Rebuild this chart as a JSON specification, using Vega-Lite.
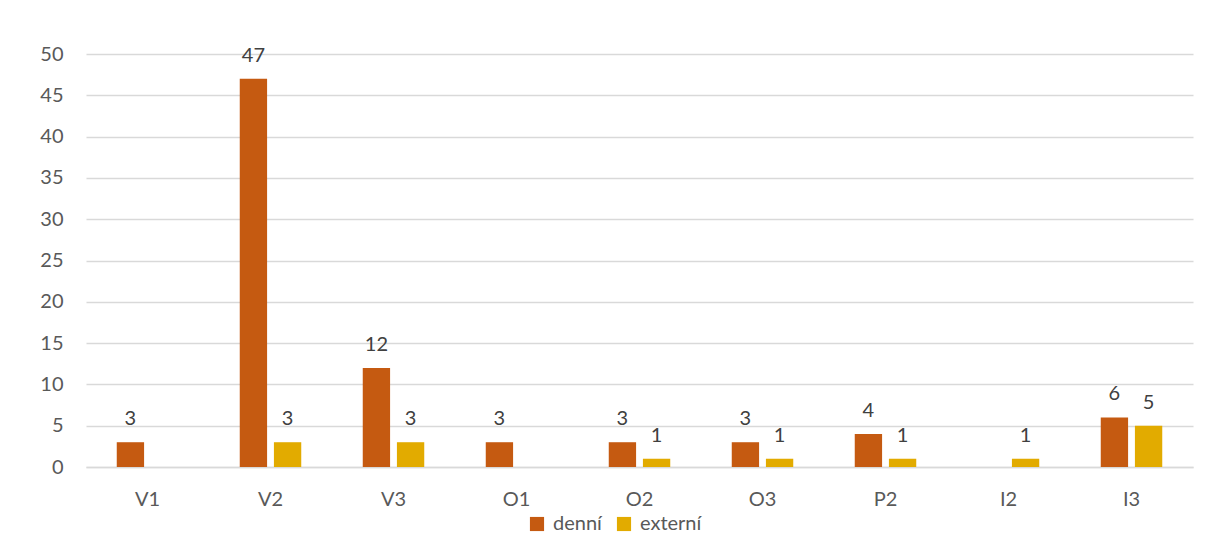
{
  "$schema": "https://vega.github.io/schema/vega-lite/v6.json",
  "width": 1107,
  "height": 413,
  "autosize": {"type": "none"},
  "padding": {"left": 86, "top": 54, "right": 19, "bottom": 89},
  "background": "white",
  "config": {
    "view": {"stroke": null},
    "font": "Lato",
    "axis": {"labelFont": "Lato", "labelFontSize": 20, "labelColor": "#595959"},
    "legend": {"labelFont": "Lato", "labelFontSize": 20, "labelColor": "#595959"}
  },
  "data": {
    "values": [
      {"kategorie": "V1", "typ": "denní", "pocet": 3},
      {"kategorie": "V2", "typ": "denní", "pocet": 47},
      {"kategorie": "V2", "typ": "externí", "pocet": 3},
      {"kategorie": "V3", "typ": "denní", "pocet": 12},
      {"kategorie": "V3", "typ": "externí", "pocet": 3},
      {"kategorie": "O1", "typ": "denní", "pocet": 3},
      {"kategorie": "O2", "typ": "denní", "pocet": 3},
      {"kategorie": "O2", "typ": "externí", "pocet": 1},
      {"kategorie": "O3", "typ": "denní", "pocet": 3},
      {"kategorie": "O3", "typ": "externí", "pocet": 1},
      {"kategorie": "P2", "typ": "denní", "pocet": 4},
      {"kategorie": "P2", "typ": "externí", "pocet": 1},
      {"kategorie": "I2", "typ": "externí", "pocet": 1},
      {"kategorie": "I3", "typ": "denní", "pocet": 6},
      {"kategorie": "I3", "typ": "externí", "pocet": 5}
    ]
  },
  "encoding": {
    "x": {
      "field": "kategorie",
      "type": "nominal",
      "sort": ["V1", "V2", "V3", "O1", "O2", "O3", "P2", "I2", "I3"],
      "scale": {"paddingInner": 0.5, "paddingOuter": 0.25},
      "axis": {
        "title": null,
        "labelAngle": 0,
        "ticks": false,
        "domainColor": "#d9d9d9",
        "domainWidth": 1.5,
        "labelPadding": 22
      }
    },
    "xOffset": {
      "field": "typ",
      "type": "nominal",
      "sort": ["denní", "externí"],
      "scale": {"paddingInner": 0.2, "paddingOuter": 0}
    },
    "y": {
      "field": "pocet",
      "type": "quantitative",
      "scale": {"domain": [0, 50], "nice": false},
      "axis": {
        "title": null,
        "values": [0, 5, 10, 15, 20, 25, 30, 35, 40, 45, 50],
        "ticks": false,
        "domain": false,
        "gridColor": "#d9d9d9",
        "gridWidth": 1.5,
        "labelPadding": 23
      }
    }
  },
  "layer": [
    {
      "mark": {"type": "bar"},
      "encoding": {
        "color": {
          "field": "typ",
          "type": "nominal",
          "sort": ["denní", "externí"],
          "scale": {"domain": ["denní", "externí"], "range": ["#c55a11", "#e2ab00"]},
          "legend": {
            "title": null,
            "orient": "none",
            "direction": "horizontal",
            "legendX": 441,
            "legendY": 460,
            "symbolType": "square",
            "symbolSize": 200,
            "symbolStrokeWidth": 0,
            "labelOffset": 6,
            "columnPadding": 12
          }
        }
      }
    },
    {
      "mark": {"type": "text", "baseline": "alphabetic", "dy": -17, "fontSize": 20, "color": "#404040", "font": "Lato"},
      "encoding": {"text": {"field": "pocet", "type": "quantitative"}}
    }
  ]
}
